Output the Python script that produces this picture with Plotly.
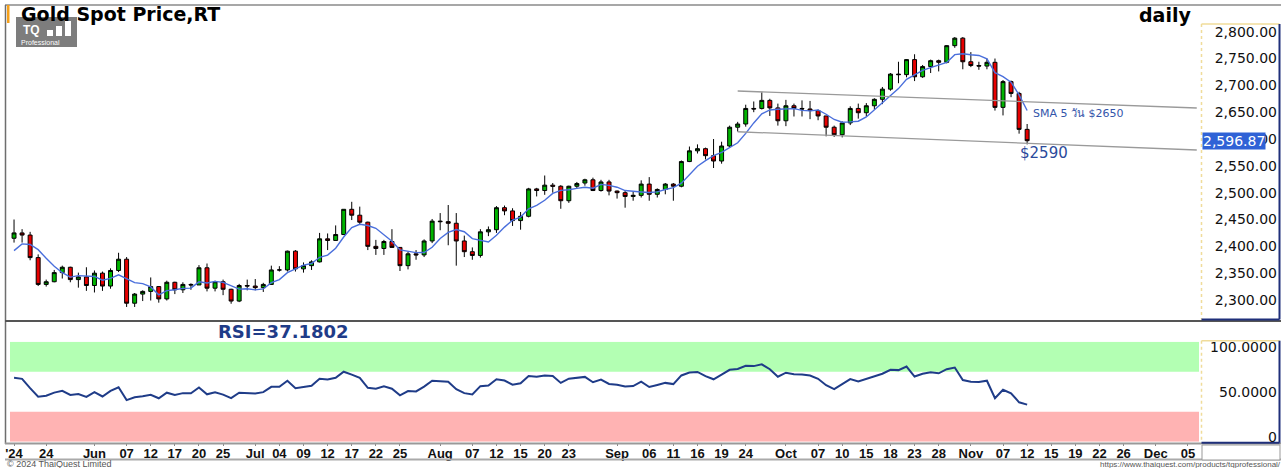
import plotly.graph_objects as go

W, H = 1285, 468

# ---------------- data ----------------
opens = [2415, 2425, 2421, 2379, 2329, 2334, 2351, 2361, 2338, 2343,
         2327, 2350, 2326, 2355, 2376, 2294, 2311, 2316, 2325, 2302,
         2333, 2319, 2329, 2328, 2360, 2322, 2334, 2320, 2298, 2327,
         2326, 2323, 2329, 2356, 2356, 2391, 2358, 2364, 2371, 2414,
         2411, 2422, 2469, 2458, 2445, 2400, 2396, 2409, 2398, 2364,
         2386, 2384, 2410, 2447, 2446, 2443, 2410, 2390, 2383, 2427,
         2431, 2472, 2466, 2448, 2456, 2507, 2504, 2514, 2512, 2485,
         2512, 2518, 2524, 2504, 2520, 2503, 2500, 2493, 2495, 2516,
         2497, 2506, 2516, 2512, 2558, 2578, 2582, 2569, 2559, 2587,
         2622, 2628, 2657, 2657, 2672, 2658, 2634, 2662, 2657, 2656,
         2653, 2643, 2622, 2608, 2630, 2657, 2649, 2662, 2674, 2693,
         2721, 2720, 2748, 2716, 2735, 2746, 2743, 2774, 2788, 2744,
         2737, 2736, 2743, 2659, 2707, 2685, 2618]
highs = [2450, 2432, 2427, 2385, 2338, 2356, 2364, 2362, 2351, 2361,
         2355, 2353, 2359, 2388, 2380, 2313, 2318, 2342, 2326, 2336,
         2334, 2333, 2331, 2365, 2368, 2336, 2338, 2321, 2330, 2338,
         2339, 2332, 2364, 2363, 2392, 2393, 2370, 2374, 2425, 2424,
         2439, 2469, 2483, 2474, 2446, 2412, 2412, 2432, 2398, 2390,
         2393, 2413, 2451, 2462, 2477, 2462, 2420, 2398, 2432, 2437,
         2475, 2476, 2471, 2464, 2509, 2509, 2532, 2518, 2514, 2513,
         2520, 2526, 2528, 2524, 2524, 2504, 2503, 2502, 2523, 2529,
         2508, 2518, 2518, 2560, 2586, 2590, 2584, 2600, 2595, 2625,
         2632, 2664, 2670, 2687, 2675, 2666, 2673, 2666, 2672, 2671,
         2655, 2643, 2625, 2633, 2661, 2666, 2667, 2676, 2697, 2723,
         2744, 2749, 2758, 2738, 2748, 2748, 2775, 2790, 2790, 2762,
         2744, 2750, 2750, 2710, 2709, 2688, 2628]
lows = [2407, 2407, 2374, 2326, 2325, 2333, 2340, 2333, 2323, 2317,
        2314, 2317, 2321, 2352, 2287, 2287, 2298, 2299, 2295, 2299,
        2311, 2313, 2319, 2328, 2316, 2316, 2309, 2293, 2296, 2318,
        2318, 2315, 2328, 2353, 2353, 2353, 2351, 2356, 2370, 2393,
        2411, 2421, 2449, 2440, 2393, 2384, 2384, 2404, 2354, 2357,
        2375, 2380, 2406, 2430, 2402, 2364, 2380, 2375, 2379, 2419,
        2425, 2458, 2438, 2431, 2454, 2493, 2496, 2500, 2470, 2481,
        2508, 2513, 2503, 2502, 2495, 2489, 2472, 2485, 2491, 2485,
        2491, 2497, 2485, 2510, 2557, 2573, 2562, 2546, 2554, 2585,
        2614, 2623, 2650, 2655, 2643, 2625, 2624, 2642, 2642, 2637,
        2635, 2605, 2604, 2603, 2626, 2638, 2642, 2655, 2665, 2690,
        2704, 2715, 2708, 2714, 2723, 2726, 2741, 2770, 2730, 2734,
        2729, 2730, 2653, 2644, 2678, 2610, 2590]
closes = [2425, 2421, 2379, 2329, 2334, 2351, 2361, 2338, 2343, 2327,
          2350, 2326, 2355, 2376, 2294, 2311, 2316, 2325, 2302, 2333,
          2319, 2329, 2328, 2360, 2322, 2334, 2320, 2298, 2327, 2326,
          2323, 2329, 2356, 2356, 2391, 2358, 2364, 2371, 2414, 2411,
          2422, 2469, 2458, 2445, 2400, 2396, 2409, 2398, 2364, 2386,
          2384, 2410, 2447, 2446, 2443, 2410, 2390, 2383, 2427, 2431,
          2472, 2466, 2448, 2456, 2507, 2504, 2514, 2512, 2485, 2512,
          2517, 2524, 2504, 2520, 2503, 2500, 2493, 2495, 2516, 2497,
          2506, 2516, 2512, 2558, 2578, 2582, 2569, 2559, 2587, 2622,
          2628, 2657, 2656, 2672, 2658, 2634, 2662, 2657, 2656, 2653,
          2643, 2622, 2608, 2630, 2657, 2649, 2662, 2674, 2693, 2721,
          2720, 2748, 2716, 2735, 2746, 2743, 2774, 2788, 2744, 2737,
          2736, 2743, 2659, 2707, 2685, 2618, 2596.87]
# closes before the first visible candle (feed the SMA / RSI start)
prior_closes = [2344, 2383, 2383, 2361, 2379, 2391, 2327, 2322, 2316, 2332,
                2337, 2335, 2286, 2320, 2303, 2301, 2323, 2314, 2309, 2346,
                2360, 2336, 2358, 2385, 2377, 2415]

tick_pos = [0, 4, 10, 14, 17, 20, 23, 26, 30, 33, 36, 39, 42, 45, 48,
            53, 57, 60, 63, 66, 69, 75, 79, 82, 85, 88, 91,
            96, 100, 103, 106, 109, 112, 115, 119, 123, 126, 129,
            132, 135, 138, 142, 146]
tick_text = ["'24", "24", "Jun", "07", "12", "17", "20", "25", "Jul", "04", "09", "12", "17", "22", "25",
             "Aug", "07", "12", "15", "20", "23", "Sep", "06", "11", "16", "19", "24",
             "Oct", "07", "10", "15", "18", "23", "28", "Nov", "07", "12", "15",
             "19", "22", "26", "Dec", "05"]

price_ticks = [2300, 2350, 2400, 2450, 2500, 2550, 2600, 2650, 2700, 2750, 2800]
rsi_tick_vals = [0, 50, 100]
rsi_tick_text = ["0", "50.0000", "100.0000"]
rsi_bands = [(70, 100, "#b3ffb3"), (0, 30, "#ffb3b3")]
# channel lines: (x0, y0, x1, y1) in (day index, price)
trend_lines = [(90, 2689.5, 147.1, 2657.8), (90, 2613.6, 147.1, 2579.5)]
last_price = 2596.87

# ---------------- indicators ----------------
x = list(range(len(closes)))
allc = prior_closes + closes
n0 = len(prior_closes)
sma5 = [sum(allc[i - 4:i + 1]) / 5 for i in range(n0, len(allc))]

period = 14
gains = [max(allc[i] - allc[i - 1], 0) for i in range(1, len(allc))]
losses = [max(allc[i - 1] - allc[i], 0) for i in range(1, len(allc))]
ag = sum(gains[:period]) / period
al = sum(losses[:period]) / period
rsi_all = []
for i in range(period, len(gains)):
    ag = (ag * (period - 1) + gains[i]) / period
    al = (al * (period - 1) + losses[i]) / period
    rsi_all.append(100 - 100 / (1 + ag / al) if al > 0 else 100)
rsi = rsi_all[-len(closes):]

# ---------------- geometry helpers (pixels -> paper) ----------------
def px(v):
    return v / W

def py(v):
    return 1 - v / H

XL, XR = 6, 1200
fig = go.Figure()

fig.add_trace(go.Candlestick(
    x=x, open=opens, high=highs, low=lows, close=closes,
    increasing=dict(line=dict(color="black", width=1), fillcolor="#00b400"),
    decreasing=dict(line=dict(color="black", width=1), fillcolor="#e60000"),
    whiskerwidth=0, xaxis="x", yaxis="y", showlegend=False, hoverinfo="skip"))

fig.add_trace(go.Scatter(x=x, y=sma5, mode="lines", line=dict(color="#4a6fdc", width=1.4),
                         xaxis="x", yaxis="y", showlegend=False, hoverinfo="skip"))

for (x0, y0, x1, y1) in trend_lines:
    fig.add_trace(go.Scatter(x=[x0, x1], y=[y0, y1], mode="lines",
                             line=dict(color="#9a9a9a", width=1.3),
                             xaxis="x", yaxis="y", showlegend=False, hoverinfo="skip"))

fig.add_trace(go.Scatter(x=x, y=rsi, mode="lines", line=dict(color="#1f3c88", width=2),
                         xaxis="x2", yaxis="y2", showlegend=False, hoverinfo="skip"))

xr = [-1.0, 147.5]
fig.update_layout(
    width=W, height=H, margin=dict(l=0, r=0, t=0, b=0),
    paper_bgcolor="white", plot_bgcolor="white",
    xaxis=dict(domain=[px(XL), px(XR)], range=xr, anchor="y", showticklabels=False,
               showgrid=False, zeroline=False, rangeslider=dict(visible=False), ticks=""),
    yaxis=dict(domain=[py(320), py(8)], range=[2262.7, 2844.2], side="right",
               anchor="free", position=px(1280), ticklabelposition="inside",
               tickvals=price_ticks, tickformat=",.2f", showgrid=False, zeroline=False,
               ticks="", tickfont=dict(family="DejaVu Sans", size=14, color="#111")),
    xaxis2=dict(domain=[px(XL), px(XR)], range=xr, anchor="y2", matches="x",
                tickvals=tick_pos, ticktext=tick_text, ticks="outside", ticklen=3,
                ticklabelstandoff=-3,
                tickcolor="#888", showgrid=False, zeroline=False,
                tickfont=dict(family="Liberation Sans", size=13, color="#111", weight="bold")),
    yaxis2=dict(domain=[py(441.7), py(341.7)], range=[0, 100], showticklabels=False,
                showgrid=False, zeroline=False, ticks=""),
)

shapes = []
for (lo, hi, col) in rsi_bands:
    shapes.append(dict(type="rect", xref="paper", yref="y2", x0=px(10), x1=px(1199),
                       y0=lo, y1=hi, fillcolor=col, line=dict(width=0), layer="below"))
# frames
grey = "#6e6e6e"
shapes += [
    dict(type="line", xref="paper", yref="paper", x0=px(5), x1=px(1281), y0=py(5), y1=py(5),
         line=dict(color="#8a8a8a", width=1.5)),
    dict(type="line", xref="paper", yref="paper", x0=px(5.5), x1=px(5.5), y0=py(5), y1=py(444),
         line=dict(color=grey, width=1.5)),
    dict(type="line", xref="paper", yref="paper", x0=px(5), x1=px(1281), y0=py(321), y1=py(321),
         line=dict(color="#555", width=2)),
    dict(type="line", xref="paper", yref="paper", x0=px(5), x1=px(1281), y0=py(443.5), y1=py(443.5),
         line=dict(color="#999", width=2)),
    dict(type="line", xref="paper", yref="paper", x0=px(5), x1=px(1281), y0=py(459.5), y1=py(459.5),
         line=dict(color="#aaa", width=2)),
    # orange marker
    dict(type="rect", xref="paper", yref="paper", x0=px(7), x1=px(9.5), y0=py(23), y1=py(5),
         fillcolor="#f5a01a", line=dict(width=0)),
    # logo
    dict(type="rect", xref="paper", yref="paper", x0=px(16), x1=px(77), y0=py(47), y1=py(17),
         fillcolor="#7d7d7d", line=dict(width=0)),
]
for (bx0, bx1, btop) in [(47, 53, 30), (56, 62, 26), (65, 71, 21)]:
    shapes.append(dict(type="rect", xref="paper", yref="paper", x0=px(bx0), x1=px(bx1),
                       y0=py(36), y1=py(btop), fillcolor="white", line=dict(width=0)))
# right axis boxes
for (t, b) in [(24, 319.5), (340.7, 442.7)]:
    shapes += [
        dict(type="line", xref="paper", yref="paper", x0=px(1201.5), x1=px(1201.5), y0=py(t), y1=py(b),
             line=dict(color="#f0dc9a", width=1.5, dash="dot")),
        dict(type="line", xref="paper", yref="paper", x0=px(1201.5), x1=px(1279.5), y0=py(t), y1=py(t),
             line=dict(color="#f0dc9a", width=1.5)),
        dict(type="line", xref="paper", yref="paper", x0=px(1279.5), x1=px(1279.5), y0=py(t), y1=py(b),
             line=dict(color="#1f2f7a", width=2)),
        dict(type="line", xref="paper", yref="paper", x0=px(1201.5), x1=px(1279.5), y0=py(b), y1=py(b),
             line=dict(color="#1f2f7a", width=2)),
    ]
shapes.append(dict(type="rect", xref="paper", yref="paper", x0=px(1202), x1=px(1280),
                   y0=py(460), y1=py(445), fillcolor="white", line=dict(color="#999", width=1)))
fig.update_layout(shapes=shapes)

ann = []
def text(xp, ypx, s, size, color="black", family="DejaVu Sans", xanchor="left", bold=False, **kw):
    if bold:
        s = "<b>" + s + "</b>"
    ann.append(dict(xref="paper", yref="paper", x=px(xp), y=py(ypx), text=s, showarrow=False,
                    xanchor=xanchor, yanchor="middle", font=dict(family=family, size=size, color=color), **kw))

text(19, 14, "Gold Spot Price,RT", 19, bold=True)
text(1193, 15, "daily", 19, xanchor="right", bold=True)
text(1031, 113, "SMA 5 วัน $2650", 11, color="#3355aa")
text(1018, 153, "$2590", 15, color="#2b4a9c")
text(216, 331, "RSI=37.1802", 18, color="#1f3c88", bold=True)
text(21, 29.5, "TQ", 12, color="white", family="Liberation Sans", bold=True)
text(19, 42.5, "Professional", 7, color="white", family="Liberation Sans")
text(5, 464, "© 2024 ThaiQuest Limited", 9, color="#555", family="Liberation Sans")
text(1283, 464, "https://www.thaiquest.com/products/tqprofessional/", 8, color="#555",
     family="Liberation Sans", xanchor="right")
# last price box
ann.append(dict(xref="paper", yref="y", x=px(1202), y=last_price, text=f"{last_price:,.2f}",
                showarrow=False, xanchor="left", yanchor="middle", bgcolor="#2f62d6",
                font=dict(family="DejaVu Sans", size=14, color="white"), borderpad=0))
# RSI axis labels
for v, t in zip(rsi_tick_vals, rsi_tick_text):
    shift = -5 if v == 100 else (5 if v == 0 else 0)
    ann.append(dict(xref="paper", yref="y2", x=px(1279), y=v, yshift=shift, text=t, showarrow=False,
                    xanchor="right", yanchor="middle",
                    font=dict(family="DejaVu Sans", size=14, color="#111")))
fig.update_layout(annotations=ann)

fig.write_html("out.html")
